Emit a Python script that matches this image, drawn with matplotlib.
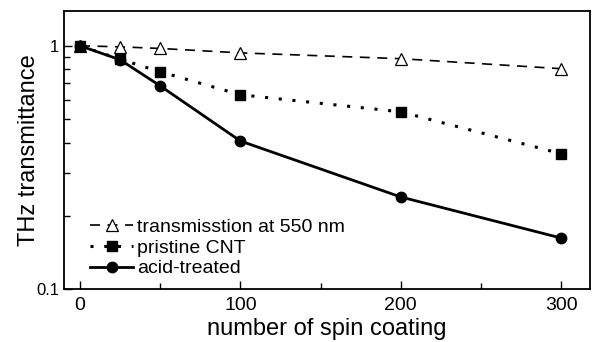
import matplotlib
matplotlib.use("Agg")
import matplotlib.pyplot as plt
from matplotlib.ticker import LogLocator, NullFormatter, FixedLocator

plt.rcParams['font.family'] = ['Liberation Sans', 'DejaVu Sans']

# data
spin = [0, 25, 50, 100, 200, 300]
trans550 = [1.0, 0.99, 0.975, 0.935, 0.885, 0.805]
pristine = [1.0, 0.88, 0.782, 0.629, 0.535, 0.36]
acid = [1.0, 0.876, 0.684, 0.406, 0.239, 0.162]

fig = plt.figure(figsize=(5.96, 3.42), dpi=100)
ax = fig.add_axes([64/596, 1-289/342, (590-64)/596, (289-11)/342])

ax.plot(spin, trans550, ls=(0, (6, 4.5)), color='black', lw=1.2, marker='^',
        mfc='white', mec='black', ms=9, mew=0.9, label='transmisstion at 550 nm')
ax.plot(spin, pristine, ls=(0, (1, 3.5)), color='black', lw=2.2, marker='s',
        mfc='black', mec='black', ms=7, label='pristine CNT')
ax.plot(spin, acid, ls='-', color='black', lw=2, marker='o',
        mfc='black', mec='black', ms=7.5, label='acid-treated')

ax.set_yscale('log')
ax.set_ylim(0.1, 1.39)
ax.set_xlim(-10, 318)
ax.yaxis.set_major_locator(FixedLocator([0.1, 1]))
ax.set_yticklabels(['0.1', '1'])
ax.yaxis.set_minor_locator(LogLocator(base=10, subs=range(2, 10)))
ax.yaxis.set_minor_formatter(NullFormatter())
ax.set_xticks([0, 100, 200, 300])
ax.set_xticks([50, 150, 250], minor=True)

ax.tick_params(which='both', direction='in', labelsize=14, width=1)
ax.tick_params(which='major', length=6)
ax.tick_params(which='minor', length=4)
ax.tick_params(axis='x', pad=6)
ax.tick_params(axis='y', labelsize=12)
for s in ax.spines.values():
    s.set_linewidth(1.3)

ax.set_xlabel('number of spin coating', fontsize=17, labelpad=3)
ax.set_ylabel('THz transmittance', fontsize=17, labelpad=-3)

ax.legend(loc='lower left', frameon=False, fontsize=14, handlelength=2.2,
          handletextpad=0.2, labelspacing=0.15, borderaxespad=0.2, bbox_to_anchor=(0.028, 0.0))

fig.savefig('out.png', dpi=100)
